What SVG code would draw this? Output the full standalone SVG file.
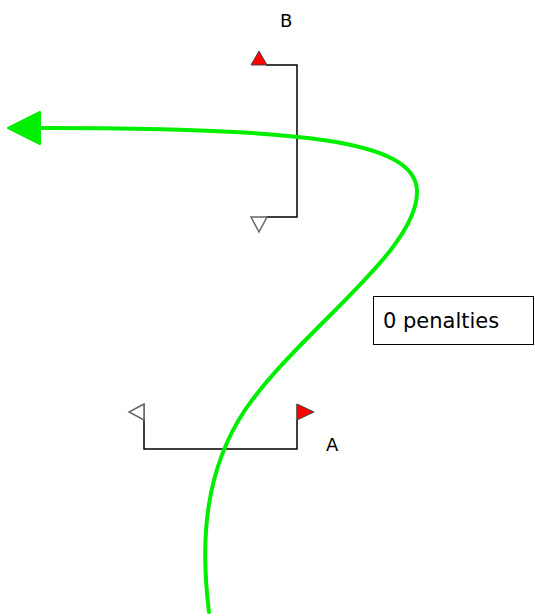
<svg xmlns="http://www.w3.org/2000/svg" width="535" height="616" viewBox="0 0 535 616">
<style>
.gate{fill:none;stroke:#000;stroke-width:1.5}
.pole{fill:none;stroke:#666;stroke-width:1.5}
.red{fill:#ff0000;stroke:#444;stroke-width:1}
.white{fill:#fff;stroke:#666;stroke-width:1.5}
.lbl{font-family:"DejaVu Sans",sans-serif;font-size:18px;fill:#000}
.box{font-family:"DejaVu Sans",sans-serif;font-size:21px;fill:#000}
.route{fill:none;stroke:#00ee00;stroke-width:4;stroke-linecap:round}
</style>
<rect width="535" height="616" fill="#fff"/>
<g id="gateB">
<polyline class="gate" points="266,65 297,65 297,217 266,217"/>
<polygon class="red" points="251,65 267,65 259,51"/>
<polygon class="white" points="251,217 267,217 259,232"/>
<text class="lbl" x="280" y="27">B</text>
</g>
<g id="gateA">
<polyline class="gate" points="144,420 144,449 297,449 297,420"/>
<line class="pole" x1="144" y1="404" x2="144" y2="420"/>
<line class="pole" x1="297" y1="404" x2="297" y2="420"/>
<polygon class="white" points="144,404 129,412 144,420"/>
<polygon class="red" points="297,404 314,412 297,420"/>
<text class="lbl" x="326" y="451">A</text>
</g>
<g id="penalties">
<rect x="373.5" y="296.5" width="160" height="48" fill="#fff" stroke="#000" stroke-width="1"/>
<text class="box" x="383" y="328">0 penalties</text>
</g>
<g id="connectors">
<path class="route" d="M209,612 C200,540 205,470 245,410 C300,330 420,250 417,190 C414,140 300,128 40,128"/>
<polygon points="8,128 40,112 40,144" fill="#00ee00" stroke="#00ee00" stroke-width="2" stroke-linejoin="round"/>
</g>
</svg>
